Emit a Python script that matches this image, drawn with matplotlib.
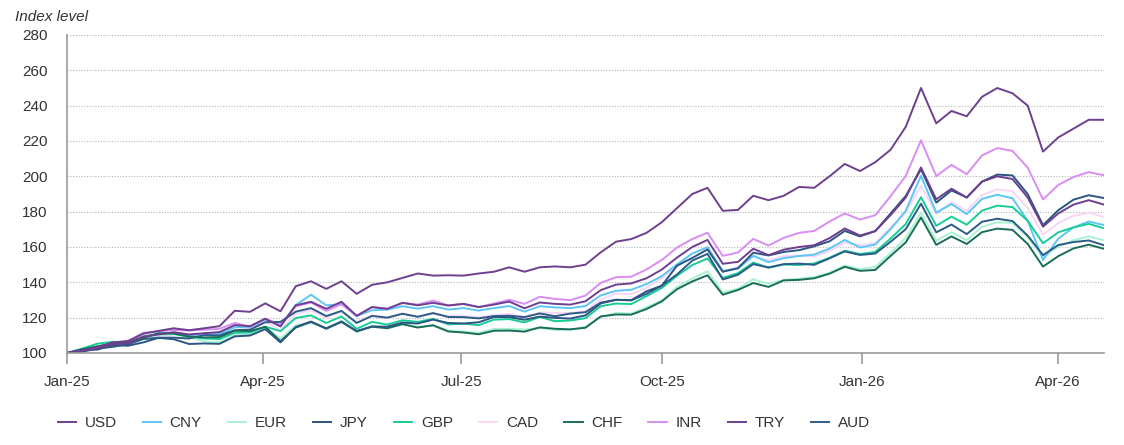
import matplotlib
matplotlib.use("Agg")
import matplotlib.pyplot as plt
import matplotlib.dates as mdates
import pandas as pd

plt.rcParams['font.family'] = ['Liberation Sans', 'DejaVu Sans']

# weekly observations from 1 Jan 2025, last point 22 Apr 2026
dates = list(pd.date_range('2025-01-01', periods=68, freq='7D')) + [pd.Timestamp('2026-04-22')]

usd = [100, 101.3, 102.7, 105, 105.5, 109.3, 110.5, 111.8, 110.5, 111.2, 111.8, 115.8, 115.2, 119.4, 115,
       127, 129, 125, 129, 121, 126, 125, 128.4, 127, 128.4, 126.9, 127.8, 126, 127.4, 129.1,
       125.3, 128.6, 127.8, 127.4, 129.3, 135.6, 138.7, 139.4, 142.3, 147.2, 154, 160, 164, 150.5,
       151.6, 159, 155.4, 158.5, 160, 161, 165, 170.5, 166.5, 169, 178, 188, 205, 187, 193, 188,
       197, 200, 198.5, 188, 171.5, 179, 184, 186.5, 184]
cny = [100, 101.7, 103.1, 104.7, 104.8, 109.0, 110.6, 111.4, 110.2, 110.4, 110.7, 114.6, 114.6, 119.0, 115.8,
       127.1, 133, 127, 127.6, 121, 124.2, 124.5, 126.5, 125.1, 126.5, 124.6, 125.4, 124.0, 125.4, 126.6,
       123.4, 126.5, 125.8, 125.4, 126.6, 132.6, 135.2, 135.8, 139.0, 143.5, 150.2, 156.3, 159.9, 146.4,
       147.8, 155.0, 151.4, 153.7, 154.9, 155.7, 159.1, 164.0, 159.7, 161.4, 170.0, 180.5, 200.3, 179.5, 184.3, 178.6,
       187.2, 189.6, 187.6, 174.8, 152.6, 164.7, 171.1, 174.4, 172.4]
eur = [100, 101.8, 103.2, 104.5, 105.0, 108.8, 110.0, 110.7, 108.9, 106.6, 106.2, 110.0, 110.4, 114.4, 108.2,
       115.8, 117.1, 114.0, 118.2, 111.8, 115.4, 114.5, 116.6, 114.8, 115.6, 112.7, 112.1, 111.5, 113.6, 113.7,
       113.3, 114.2, 113.1, 113.1, 114.8, 120.4, 122.7, 122.3, 125.9, 129.7, 137.4, 142.1, 146.3, 134.2,
       136.4, 141.8, 139.2, 141.4, 142.1, 143.0, 145.4, 149.5, 147.5, 148.7, 156.6, 165.1, 179.4, 163.6, 168.3, 163.9,
       171.4, 174.0, 173.7, 165.4, 154.4, 160.2, 163.8, 166.0, 163.8]
jpy = [100, 101.8, 101.9, 104.6, 104.1, 106.0, 108.6, 107.8, 105.1, 105.4, 105.2, 109.4, 109.9, 113.5, 106.0,
       114.7, 117.8, 113.7, 117.8, 112.4, 115.0, 114.9, 117.2, 116.7, 118.9, 117.0, 116.7, 117.4, 120.4, 120.3,
       118.8, 120.6, 119.9, 119.5, 121.3, 128.1, 130.1, 129.9, 134.9, 138.1, 149.4, 153.8, 158.6, 146.0,
       148.0, 156.8, 155.2, 157.2, 158.2, 160.4, 163.2, 169.1, 166.0, 169.0, 178.9, 188.9, 204.0, 185.1, 192.0, 188.0,
       197.0, 201.0, 200.5, 189.9, 172.4, 180.8, 186.8, 189.3, 187.7]
gbp = [100, 102.5, 105.3, 106.3, 105.9, 109.3, 110.9, 110.9, 109.2, 108.2, 107.9, 111.4, 111.6, 114.9, 112.4,
       119.8, 121.3, 117.0, 120.7, 113.7, 117.6, 116.1, 118.5, 117.6, 119.3, 116.2, 116.6, 115.8, 118.9, 119.2,
       117.3, 120.4, 118.0, 118.4, 119.7, 126.5, 128.0, 127.7, 132.2, 136.8, 143.7, 149.8, 153.5, 142.5,
       145.2, 151.2, 148.3, 150.1, 149.8, 150.7, 153.9, 157.9, 156.0, 157.2, 164.7, 173.0, 188.2, 172.0, 177.2, 172.6,
       180.6, 183.4, 182.6, 174.8, 162.1, 168.3, 171.1, 173.1, 170.6]
cad = [100, 101.4, 102.5, 105.1, 106.0, 108.6, 109.5, 110.4, 109.8, 111.0, 111.9, 115.6, 114.5, 117.9, 112.8,
       122.3, 124.2, 120.0, 123.8, 117.4, 121.3, 120.0, 122.4, 120.5, 122.4, 120.9, 120.9, 120.1, 121.4, 122.1,
       120.3, 122.9, 122.7, 122.7, 123.6, 130.2, 133.6, 133.3, 137.0, 142.3, 149.4, 156.3, 159.7, 146.0,
       148.7, 154.9, 152.4, 154.9, 155.2, 154.6, 157.7, 162.5, 161.0, 162.2, 170.9, 179.5, 194.8, 178.6, 185.3, 180.5,
       189.5, 192.6, 191.6, 182.0, 166.9, 173.6, 177.6, 179.4, 177.0]
chf = [100, 102.1, 103.8, 105.2, 106.1, 108.6, 111.2, 111.1, 109.3, 108.8, 109.0, 112.6, 112.4, 114.8, 106.7,
       114.4, 117.6, 114.0, 117.6, 112.3, 114.9, 114.0, 116.3, 114.4, 115.7, 112.2, 111.6, 110.6, 112.6, 112.7,
       112.1, 114.5, 113.7, 113.4, 114.3, 120.7, 121.8, 121.7, 124.9, 129.2, 136.1, 140.5, 144.0, 133.0,
       135.7, 139.6, 137.4, 141.1, 141.4, 142.3, 144.9, 148.8, 146.5, 147.0, 154.9, 162.6, 176.7, 161.2, 166.0, 161.7,
       168.4, 170.4, 169.7, 161.7, 148.9, 154.8, 159.2, 161.3, 159.0]
inr = [100, 101.8, 103.7, 105.5, 106.6, 111.5, 112.2, 113.1, 112.7, 113.2, 113.7, 117.0, 114.9, 119.4, 116.2,
       126.4, 128.6, 123.8, 127.7, 121.0, 126.0, 125.0, 128.4, 127.4, 129.7, 126.9, 127.8, 126.0, 128.0, 130.1,
       127.8, 131.8, 130.6, 129.9, 132.5, 139.7, 142.9, 143.2, 147.3, 152.6, 159.7, 164.5, 168.1, 155.0,
       156.9, 164.6, 160.8, 165.2, 168.0, 169.1, 174.4, 179.0, 175.5, 178.0, 188.7, 200.2, 220.4, 200.1, 206.5, 201.2,
       211.8, 216.0, 214.4, 204.9, 186.9, 195.1, 199.6, 202.4, 200.6]
try_ = [100, 101.6, 103.3, 106, 106.8, 110.9, 112.5, 114, 112.9, 114, 115.2, 123.9, 123.3, 128.1, 123.6,
        137.8, 140.6, 136.3, 140.6, 133.5, 138.6, 140, 142.5, 145, 143.8, 144, 143.8, 145, 146, 148.5,
        146, 148.5, 149, 148.5, 150, 157, 163, 164.5, 168, 174, 182, 190, 193.5, 180.5,
        181, 189, 186.5, 189, 194, 193.5, 200, 207, 203, 208, 215, 228, 250, 230, 237, 234,
        245, 250, 247, 240, 214, 222, 227, 232, 232]
aud = [100, 100.7, 102.5, 103.5, 104.9, 107.9, 108.6, 108.7, 108.2, 110.1, 109.9, 112.9, 113.2, 117.4, 117.6,
       123.4, 125.4, 120.9, 123.8, 117.0, 121.0, 120.0, 122.2, 120.5, 122.6, 120.4, 120.3, 119.6, 120.9, 121.1,
       120.3, 122.4, 120.8, 122.3, 123.1, 128.5, 130.1, 129.8, 133.5, 138.1, 144.5, 152.3, 156.1, 141.6,
       144.3, 150.3, 148.4, 150.3, 150.6, 149.9, 153.6, 157.5, 155.5, 156.3, 162.9, 170.1, 184.5, 168.3, 172.7, 167.3,
       174.3, 176.0, 174.7, 166.4, 155.4, 161.1, 162.8, 163.7, 161.0]

names = ['USD', 'CNY', 'EUR', 'JPY', 'GBP', 'CAD', 'CHF', 'INR', 'TRY', 'AUD']
series = [usd, cny, eur, jpy, gbp, cad, chf, inr, try_, aud]
colors = ['#6e3f8e', '#5cc6f4', '#a9f2d2', '#2b5682', '#17cc95',
          '#f8d6f8', '#1a6c5b', '#d98cf3', '#6e3f8e', '#2d5b88']
# drawing order: light lines first so the dark ones sit on top
order = [5, 2, 1, 7, 4, 9, 6, 3, 0, 8]

fig = plt.figure(figsize=(11.24, 4.45), dpi=100)
ax = fig.add_axes([67 / 1124, 1 - 353 / 445, (1104 - 67) / 1124, (353 - 35) / 445])

lines = {}
for i in order:
    ln, = ax.plot(dates, series[i], color=colors[i], lw=1.4, label=names[i])
    lines[i] = ln

ax.set_ylim(100, 280)
ax.set_yticks(range(100, 281, 20))
ax.set_xlim(pd.Timestamp('2025-01-01'), pd.Timestamp('2026-04-22'))
ax.xaxis.set_major_locator(mdates.MonthLocator(bymonth=[1, 4, 7, 10]))
ax.xaxis.set_major_formatter(mdates.DateFormatter('%b-%y'))

ax.yaxis.grid(True, linestyle=(0, (1, 1.5)), color='#b5b5b5', linewidth=0.8)
ax.set_axisbelow(True)
for s in ['top', 'right']:
    ax.spines[s].set_visible(False)
ax.spines['left'].set_color('#9a9a9a')
ax.spines['bottom'].set_color('#9a9a9a')
ax.spines['left'].set_linewidth(1.2)
ax.spines['bottom'].set_linewidth(1.2)
ax.tick_params(axis='y', length=0, pad=14, labelsize=11, labelcolor='#333333')
ax.tick_params(axis='x', length=8, width=1.2, color='#9a9a9a', pad=8, labelsize=11, labelcolor='#333333')

fig.text(15 / 1124, 1 - 17 / 445, 'Index level', style='italic', fontsize=11,
         color='#333333', va='center', ha='left')

handles = [lines[i] for i in range(10)]
fig.legend(handles, names, loc='center left', bbox_to_anchor=(44 / 1124, 1 - 423 / 445),
           ncol=10, frameon=False, fontsize=11, handlelength=1.2, handletextpad=0.55,
           columnspacing=1.72, labelcolor='#333333')

fig.savefig('out.png', dpi=100)
